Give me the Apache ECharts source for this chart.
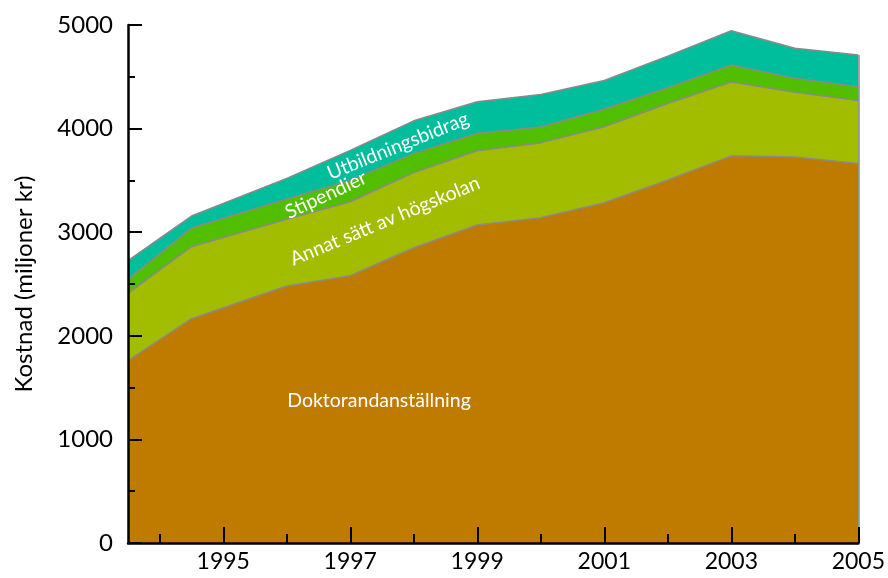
<!DOCTYPE html>
<html>
<head>
<meta charset="utf-8">
<script src="https://cdn.jsdelivr.net/npm/echarts@6/dist/echarts.min.js"></script>
<style>
  html, body { margin: 0; padding: 0; background: #fff; }
  #chart { width: 888px; height: 578px; }
</style>
</head>
<body>
<div id="chart"></div>
<script>
// år (1993/94 och 1994/95 som budgetår, därefter kalenderår)
const years = [1993.5, 1994.5, 1996, 1997, 1998, 1999, 2000, 2001, 2002, 2003, 2004, 2005]
const doktorand = [1760, 2165, 2481, 2580, 2850, 3069, 3140, 3285, 3504, 3737, 3726, 3663]
const annat = [650, 695, 644, 714, 725, 718, 722, 733, 738, 713, 624, 607]
const stipendier = [135, 180, 195, 206, 186, 168, 153, 172, 153, 164, 135, 134]
const utbildning = [180, 116, 200, 290, 314, 305, 315, 275, 305, 331, 290, 306]
const majorYears = [1995, 1997, 1999, 2001, 2003, 2005]
const minorYears = [1994, 1996, 1998, 2000, 2002, 2004]

const font = 'Lato'
const chart = echarts.init(document.getElementById('chart'))

// staplade summor, räknas fram från serierna
function cumulative(list) {
  return years.map((y, i) => [y, list.reduce((s, arr) => s + arr[i], 0)])
}

function areaSeries(name, data, color) {
  return {
    name: name,
    type: 'line',
    symbol: 'none',
    silent: true,
    lineStyle: { color: '#8a8a8a', width: 1.5 },
    areaStyle: { color: color, opacity: 1 },
    data: data
  }
}

function deg(d) {
  return d * Math.PI / 180
}

const totals = cumulative([doktorand, annat, stipendier, utbildning])
const last = totals[totals.length - 1]

const topSeries = areaSeries('Utbildningsbidrag', totals, '#00bd9c')
// grå kant längs högra sidan av ytan
topSeries.markLine = {
  silent: true,
  symbol: 'none',
  label: { show: false },
  lineStyle: { color: '#8a8a8a', width: 1.5, type: 'solid' },
  data: [[{ coord: [last[0], 0] }, { coord: [last[0], last[1]] }]]
}

const labelStyle = { fill: '#fff', fontFamily: font, fontSize: 19.5 }

const option = {
  animation: false,
  grid: { left: 128, right: 26, top: 25, bottom: 35 },
  xAxis: [
    {
      type: 'value',
      min: 1993.5,
      max: 2005,
      axisLine: { show: true, lineStyle: { color: '#000', width: 2.5 } },
      axisTick: { show: true, inside: true, length: 16, customValues: majorYears, lineStyle: { color: '#000', width: 2 } },
      axisLabel: { customValues: majorYears, formatter: v => String(v), color: '#000', fontFamily: font, fontSize: 23, margin: 7 },
      splitLine: { show: false },
      z: 10
    },
    {
      type: 'value',
      min: 1993.5,
      max: 2005,
      position: 'bottom',
      axisLine: { show: false },
      axisTick: { show: true, inside: true, length: 9, customValues: minorYears, lineStyle: { color: '#000', width: 2 } },
      axisLabel: { show: false },
      splitLine: { show: false },
      z: 10
    }
  ],
  yAxis: {
    type: 'value',
    min: 0,
    max: 5000,
    interval: 1000,
    name: 'Kostnad (miljoner kr)',
    nameLocation: 'middle',
    nameGap: 92,
    nameTextStyle: { color: '#000', fontFamily: font, fontSize: 24 },
    axisLine: { show: true, lineStyle: { color: '#000', width: 2.5 } },
    axisTick: { show: true, inside: true, length: 14, lineStyle: { color: '#000', width: 2 } },
    minorTick: { show: true, splitNumber: 2, length: 7, lineStyle: { color: '#000', width: 2 } },
    axisLabel: { formatter: v => String(v), color: '#000', fontFamily: font, fontSize: 24, margin: 15 },
    splitLine: { show: false },
    z: 10
  },
  series: [
    topSeries,
    areaSeries('Stipendier', cumulative([doktorand, annat, stipendier]), '#52be00'),
    areaSeries('Annat sätt av högskolan', cumulative([doktorand, annat]), '#a2bd00'),
    areaSeries('Doktorandanställning', cumulative([doktorand]), '#bf7a00')
  ],
  graphic: [
    { type: 'text', x: 379, y: 401, style: Object.assign({ text: 'Doktorandanställning', align: 'center', verticalAlign: 'middle' }, labelStyle), z: 100 },
    { type: 'text', x: 385, y: 221, rotation: deg(22.5), style: Object.assign({ text: 'Annat sätt av högskolan', align: 'center', verticalAlign: 'middle' }, labelStyle), z: 100 },
    { type: 'text', x: 326, y: 195, rotation: deg(25), style: Object.assign({ text: 'Stipendier', align: 'center', verticalAlign: 'middle' }, labelStyle), z: 100 },
    { type: 'text', x: 398, y: 146, rotation: deg(22), style: Object.assign({ text: 'Utbildningsbidrag', align: 'center', verticalAlign: 'middle' }, labelStyle), z: 100 }
  ]
}

chart.setOption(option)
</script>
</body>
</html>
